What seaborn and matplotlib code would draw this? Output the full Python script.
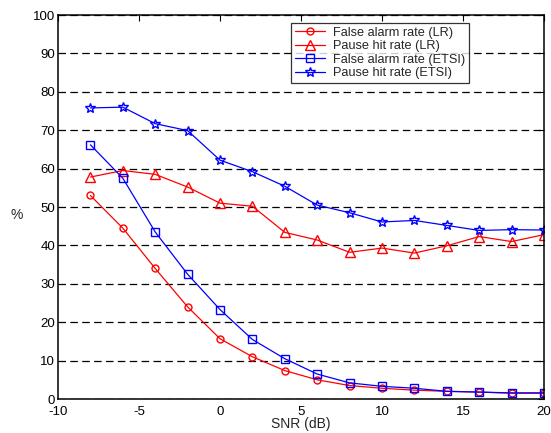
import matplotlib
matplotlib.use("Agg")
import matplotlib.pyplot as plt
import seaborn as sns
import pandas as pd

snr = [-8, -6, -4, -2, 0, 2, 4, 6, 8, 10, 12, 14, 16, 18, 20]
fa_lr = [53, 44.5, 34, 24, 15.7, 11, 7.4, 5, 3.5, 2.8, 2.3, 2.0, 1.8, 1.5, 1.5]
ph_lr = [57.8, 59.5, 58.5, 55.2, 51, 50.2, 43.4, 41.4, 38.2, 39.3, 38.0, 39.9, 42.3, 41.0, 42.8]
fa_etsi = [66.2, 57.5, 43.5, 32.5, 23.3, 15.5, 10.5, 6.5, 4.2, 3.3, 2.8, 2.0, 1.8, 1.6, 1.6]
ph_etsi = [75.8, 76.0, 71.7, 69.9, 62.2, 59.2, 55.4, 50.5, 48.5, 46.1, 46.5, 45.2, 43.9, 44.1, 44.0]

labels = ["False alarm rate (LR)", "Pause hit rate (LR)",
          "False alarm rate (ETSI)", "Pause hit rate (ETSI)"]
series = [fa_lr, ph_lr, fa_etsi, ph_etsi]
colors = ["#ff0000", "#ff0000", "#0000ff", "#0000ff"]
markers = ["o", "^", "s", "*"]
msizes = [5, 6.5, 5.5, 7.5]

sns.set_style("white")
plt.rcParams["font.family"] = ["Liberation Sans", "DejaVu Sans"]
plt.rcParams["axes.unicode_minus"] = False

fig = plt.figure(figsize=(5.51, 4.33), dpi=100)
ax = fig.add_axes([58/551, 1 - 399/433, (544-58)/551, (399-15)/433])

for lab, vals, c, m, ms in zip(labels, series, colors, markers, msizes):
    df = pd.DataFrame({"snr": snr, "val": vals})
    sns.lineplot(data=df, x="snr", y="val", ax=ax, color=c, marker=m,
                 markersize=ms, markerfacecolor="none",
                 markeredgecolor=c, markeredgewidth=1.0, linewidth=0.9, label=lab)

ax.set_xlim(-10, 20)
ax.set_ylim(0, 100)
ax.set_xticks(range(-10, 21, 5))
ax.set_yticks(range(0, 101, 10))
ax.yaxis.grid(True, linestyle=(0, (6, 3.5)), color="black", linewidth=0.9)
ax.xaxis.grid(False)
ax.set_axisbelow(True)
for s in ax.spines.values():
    s.set_color("black")
    s.set_linewidth(1.1)
ax.tick_params(direction="in", length=4, width=0.8, top=True, right=True,
               labelsize=9.5, colors="black")
ax.tick_params(axis="x", pad=5)
ax.tick_params(axis="y", pad=2)
ax.set_xlabel("SNR (dB)", fontsize=10, labelpad=-0.5)
ax.set_ylabel("%", fontsize=10, rotation=0)
ax.yaxis.set_label_coords(-0.085, 0.46)

leg = ax.legend(loc="upper right", bbox_to_anchor=(0.846, 0.979), fontsize=9.2,
                frameon=True, fancybox=False, edgecolor="black",
                handlelength=2.4, borderpad=0.3, labelspacing=0.12,
                handletextpad=0.6, borderaxespad=0.0)
leg.get_frame().set_linewidth(0.9)

fig.savefig("out.png", dpi=100)
